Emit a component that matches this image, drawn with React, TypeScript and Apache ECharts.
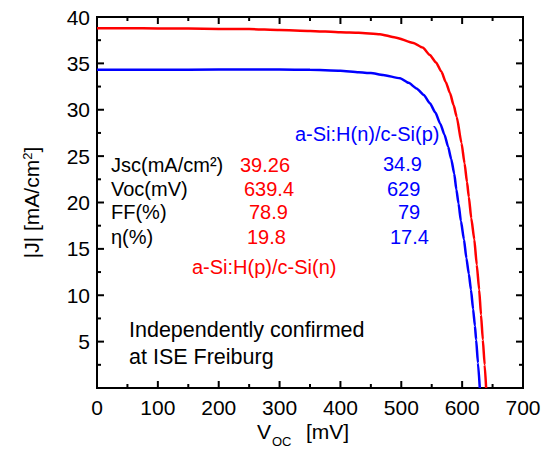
import React, { useEffect, useRef } from "react";
import * as echarts from "echarts";

// J-V curves (voltage in mV, |J| in mA/cm²)
const pnVoltage = [0, 50, 100, 150, 200, 250, 300, 350, 400, 430, 465, 490, 520, 535, 547, 557, 566, 573, 580, 586, 591, 599, 604, 608, 611, 615, 620, 624, 628, 631, 634, 637, 639.4];
const pnCurrent = [38.8, 38.8, 38.75, 38.75, 38.7, 38.7, 38.6, 38.5, 38.35, 38.3, 38.15, 37.8, 37.2, 36.7, 35.9, 35.1, 34.1, 33.0, 31.8, 30.5, 29.25, 26.4, 24.2, 22.2, 20.6, 18.3, 16.0, 13.3, 10.6, 7.9, 5.2, 2.5, 0];

const npVoltage = [0, 100, 200, 300, 350, 400, 430, 450, 470, 498, 512, 525, 537, 547, 556, 564, 571, 577, 582, 587, 590.5, 594, 598, 603, 607, 611, 614.5, 618, 621, 623, 626, 629];
const npCurrent = [34.3, 34.3, 34.35, 34.35, 34.3, 34.2, 34.05, 33.95, 33.75, 33.4, 32.9, 32.3, 31.6, 30.7, 29.7, 28.5, 27.3, 26.0, 24.7, 23.1, 21.4, 19.9, 18.0, 16.0, 14.0, 12.3, 10.6, 8.5, 6.7, 5.2, 2.7, 0];

// Tick values for the frame (major + minor)
const xMajorTicks = [0, 100, 200, 300, 400, 500, 600, 700];
const xMinorTicks = [50, 150, 250, 350, 450, 550, 650];
const yMajorTicks = [0, 5, 10, 15, 20, 25, 30, 35, 40];
const yMinorTicks = [2.5, 7.5, 12.5, 17.5, 22.5, 27.5, 32.5, 37.5];

// Cell parameters table
const paramNames = ["Jsc(mA/cm²)", "Voc(mV)", "FF(%)", "η(%)"];
const pnValues = ["39.26", "639.4", "78.9", "19.8"];
const npValues = ["34.9", "629", "79", "17.4"];
const pnName = "a-Si:H(p)/c-Si(n)";
const npName = "a-Si:H(n)/c-Si(p)";
const noteLines = ["Independently confirmed", "at ISE Freiburg"];

const RED = "#ff0000";
const BLUE = "#0000ff";
const FONT = "Liberation Sans, Arial, sans-serif";
const X_MIN = 0, X_MAX = 700, Y_MIN = 0, Y_MAX = 40;
const MAJOR_LEN = 7, MINOR_LEN = 4;

const rowY = [165, 189, 212, 237];
const pnX = [240, 244, 249, 247];
const npX = [383, 387, 398, 390];

// Free-standing text placed by its left edge and vertical centre
const label = (text: string, x: number, cy: number, color: string, size = 20) => {
  const lh = Math.round(size * 1.2);
  return {
    text,
    left: x,
    top: Math.round(cy - lh / 2),
    padding: 0,
    textStyle: { color, fontSize: size, fontFamily: FONT, fontWeight: "normal", lineHeight: lh },
  };
};

export default function App() {
  const ref = useRef<HTMLDivElement>(null);

  useEffect(() => {
    if (!ref.current) return;
    const chart = echarts.init(ref.current, undefined, { renderer: "svg" });

    const titles: any[] = [];
    paramNames.forEach((n, i) => titles.push(label(n, 111, rowY[i], "#000")));
    pnValues.forEach((v, i) => titles.push(label(v, pnX[i], rowY[i], RED)));
    npValues.forEach((v, i) => titles.push(label(v, npX[i], rowY[i] - (i === 0 ? 1 : 0), BLUE)));
    titles.push(label(pnName, 192, 267, RED));
    titles.push(label(npName, 295, 134, BLUE));
    titles.push(label(noteLines[0], 129, 330, "#000", 21.5));
    titles.push(label(noteLines[1], 129, 357, "#000", 21.5));
    // x-axis title: V_OC [mV]
    titles.push(label("V", 257, 431, "#000", 21));
    titles.push(label("OC", 272, 441, "#000", 13));
    titles.push(label("[mV]", 306, 431, "#000", 21));

    const tickStyle = { stroke: "#000", lineWidth: 2 };

    // Inward ticks on bottom and top edges
    const xTickData = [
      ...xMajorTicks.map((v) => [v, 1]),
      ...xMinorTicks.map((v) => [v, 0]),
    ];
    // Inward ticks on left and right edges
    const yTickData = [
      ...yMajorTicks.map((v) => [1, v]),
      ...yMinorTicks.map((v) => [0, v]),
    ];

    chart.setOption({
      animation: false,
      title: titles,
      grid: {
        left: 97,
        right: 23,
        top: 17,
        bottom: 67,
        show: true,
        borderColor: "#000",
        borderWidth: 2,
        backgroundColor: "transparent",
      },
      xAxis: {
        type: "value",
        min: X_MIN,
        max: X_MAX,
        interval: 100,
        axisLine: { show: true, lineStyle: { color: "#000", width: 2 } },
        axisTick: { show: false },
        splitLine: { show: false },
        axisLabel: { show: true, color: "#000", fontSize: 21, fontFamily: FONT, margin: 9 },
      },
      yAxis: {
        type: "value",
        min: Y_MIN,
        max: Y_MAX,
        interval: 5,
        name: "|J| [mA/cm{sup|2}]",
        nameLocation: "middle",
        nameRotate: 90,
        nameGap: 55,
        nameTextStyle: {
          color: "#000",
          fontSize: 21,
          fontFamily: FONT,
          rich: { sup: { fontSize: 13, fontFamily: FONT, color: "#000", verticalAlign: "top" } },
        },
        axisLine: { show: true, lineStyle: { color: "#000", width: 2 } },
        axisTick: { show: false },
        splitLine: { show: false },
        axisLabel: {
          show: true,
          showMinLabel: false,
          color: "#000",
          fontSize: 21,
          fontFamily: FONT,
          margin: 7,
        },
      },
      series: [
        {
          type: "line",
          data: pnVoltage.map((v, i) => [v, pnCurrent[i]]),
          showSymbol: false,
          smooth: 0.2,
          smoothMonotone: "x",
          lineStyle: { color: RED, width: 2.5 },
        },
        {
          type: "line",
          data: npVoltage.map((v, i) => [v, npCurrent[i]]),
          showSymbol: false,
          smooth: 0.2,
          smoothMonotone: "x",
          lineStyle: { color: BLUE, width: 2.5 },
        },
        {
          type: "custom",
          silent: true,
          data: xTickData,
          encode: { x: 0 },
          renderItem: (_params: any, api: any) => {
            const v = api.value(0);
            const len = api.value(1) ? MAJOR_LEN : MINOR_LEN;
            const b = api.coord([v, Y_MIN]);
            const t = api.coord([v, Y_MAX]);
            return {
              type: "group",
              children: [
                { type: "line", shape: { x1: b[0], y1: b[1], x2: b[0], y2: b[1] - len }, style: tickStyle },
                { type: "line", shape: { x1: t[0], y1: t[1], x2: t[0], y2: t[1] + len }, style: tickStyle },
              ],
            };
          },
        },
        {
          type: "custom",
          silent: true,
          data: yTickData,
          encode: { y: 1 },
          renderItem: (_params: any, api: any) => {
            const v = api.value(1);
            const len = api.value(0) ? MAJOR_LEN : MINOR_LEN;
            const l = api.coord([X_MIN, v]);
            const r = api.coord([X_MAX, v]);
            return {
              type: "group",
              children: [
                { type: "line", shape: { x1: l[0], y1: l[1], x2: l[0] + len, y2: l[1] }, style: tickStyle },
                { type: "line", shape: { x1: r[0], y1: r[1], x2: r[0] - len, y2: r[1] }, style: tickStyle },
              ],
            };
          },
        },
      ],
    });

    return () => chart.dispose();
  }, []);

  return (
    <div style={{ position: "absolute", left: 0, top: 0 }}>
      <div ref={ref} style={{ width: 546, height: 455 }} />
    </div>
  );
}
